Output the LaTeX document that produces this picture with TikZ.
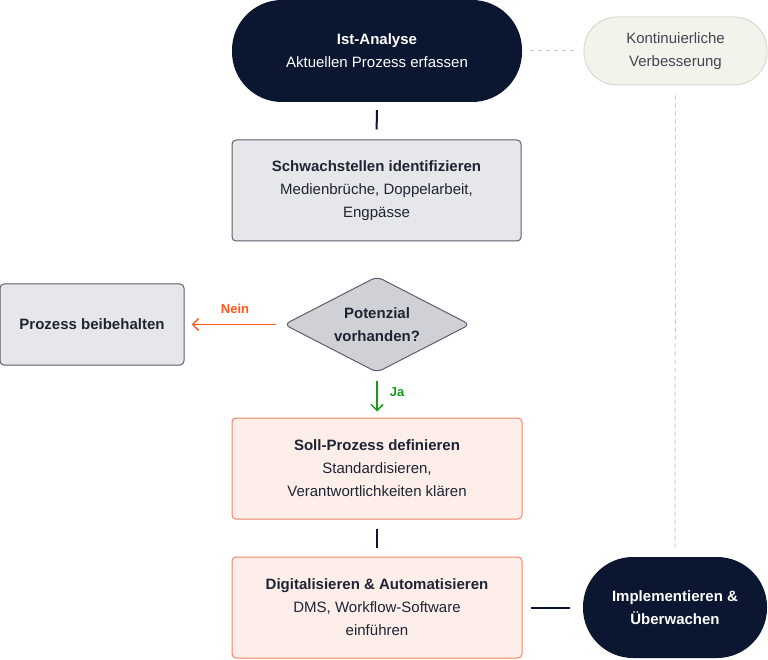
\documentclass[tikz,border=0pt]{standalone}
\usepackage{fontspec}
\setmainfont{Liberation Sans}
\usetikzlibrary{shapes.geometric,arrows.meta}
\definecolor{navy}{HTML}{0B1730}
\definecolor{grayfill}{HTML}{E6E7EA}
\definecolor{decfill}{HTML}{CFD1D7}
\definecolor{grayline}{HTML}{5A5F6B}
\definecolor{rosefill}{HTML}{FDEEEA}
\definecolor{roseline}{HTML}{F0856A}
\definecolor{creamfill}{HTML}{F4F3EB}
\definecolor{creamline}{HTML}{DADAD2}
\definecolor{nein}{HTML}{FF5A1F}
\definecolor{ja}{HTML}{1A9A1A}
\definecolor{dashgray}{HTML}{CCCCCC}
\definecolor{txt}{HTML}{1E2433}
\begin{document}
\begin{tikzpicture}[x=1pt,y=-1pt,
  every node/.style={font=\fontsize{15}{23}\selectfont, align=center, inner sep=0pt},
  dark/.style={fill=navy, text=white, rounded corners=50pt, minimum width=290pt, minimum height=102pt},
  grayb/.style={fill=grayfill, draw=grayline, line width=1pt, rounded corners=4pt, text=txt},
  roseb/.style={fill=rosefill, draw=roseline, line width=1pt, rounded corners=4pt, text=txt, minimum width=290pt, minimum height=101pt},
  conn/.style={navy, line width=2pt},
  dsh/.style={dashgray, line width=1pt, dash pattern=on 4pt off 4pt}]
\useasboundingbox (0,0) rectangle (768,660);
\node[dark] (ist) at (377,51) {\textbf{Ist-Analyse}\\Aktuellen Prozess erfassen};
\node[fill=creamfill, draw=creamline, line width=1pt, rounded corners=33pt, minimum width=183pt, minimum height=68pt, text=txt!85] (kont) at (675.5,51) {Kontinuierliche\\Verbesserung};
\node[grayb, minimum width=289pt, minimum height=101pt] (sw) at (376.5,190.5) {\textbf{Schwachstellen identifizieren}\\Medienbrüche, Doppelarbeit,\\Engpässe};
\node[diamond, aspect=1.94, fill=decfill, draw=grayline, line width=1pt, rounded corners=6pt, minimum width=186pt, minimum height=96pt, text=txt] (dec) at (377,324.5) {\textbf{Potenzial}\\\textbf{vorhanden?}};
\node[grayb, minimum width=184pt, minimum height=81pt] (keep) at (92,324.5) {\textbf{Prozess beibehalten}};
\node[roseb] (soll) at (377,468.5) {\textbf{Soll-Prozess definieren}\\Standardisieren,\\Verantwortlichkeiten klären};
\node[roseb] (dig) at (377,607.5) {\textbf{Digitalisieren \& Automatisieren}\\DMS, Workflow-Software\\einführen};
\node[dark, minimum width=184pt, minimum height=101pt] (impl) at (675,607.5) {\textbf{Implementieren \&}\\\textbf{Überwachen}};
\draw[conn, shorten <=8pt, shorten >=10pt] (ist) -- (sw);
\draw[conn, shorten <=9pt, shorten >=9pt] (soll) -- (dig);
\draw[conn, shorten <=8pt, shorten >=13pt] (dig) -- (impl);
\draw[nein, line width=1.5pt, shorten <=7pt, shorten >=7pt, -{Straight Barb[length=6pt,width=12pt]}] (dec) -- (keep);
\node[font=\fontsize{13}{15}\selectfont\bfseries, text=nein] at (235,309) {Nein};
\draw[ja, line width=1.5pt, shorten <=8pt, shorten >=6pt, -{Straight Barb[length=6pt,width=12pt]}] (dec) -- (soll);
\node[font=\fontsize{13}{15}\selectfont\bfseries, text=ja] at (397,392) {Ja};
\draw[dsh, shorten <=8pt, shorten >=9pt] (ist) -- (kont);
\draw[dsh, shorten <=10pt, shorten >=7pt] (kont) -- (impl);
\end{tikzpicture}
\end{document}
